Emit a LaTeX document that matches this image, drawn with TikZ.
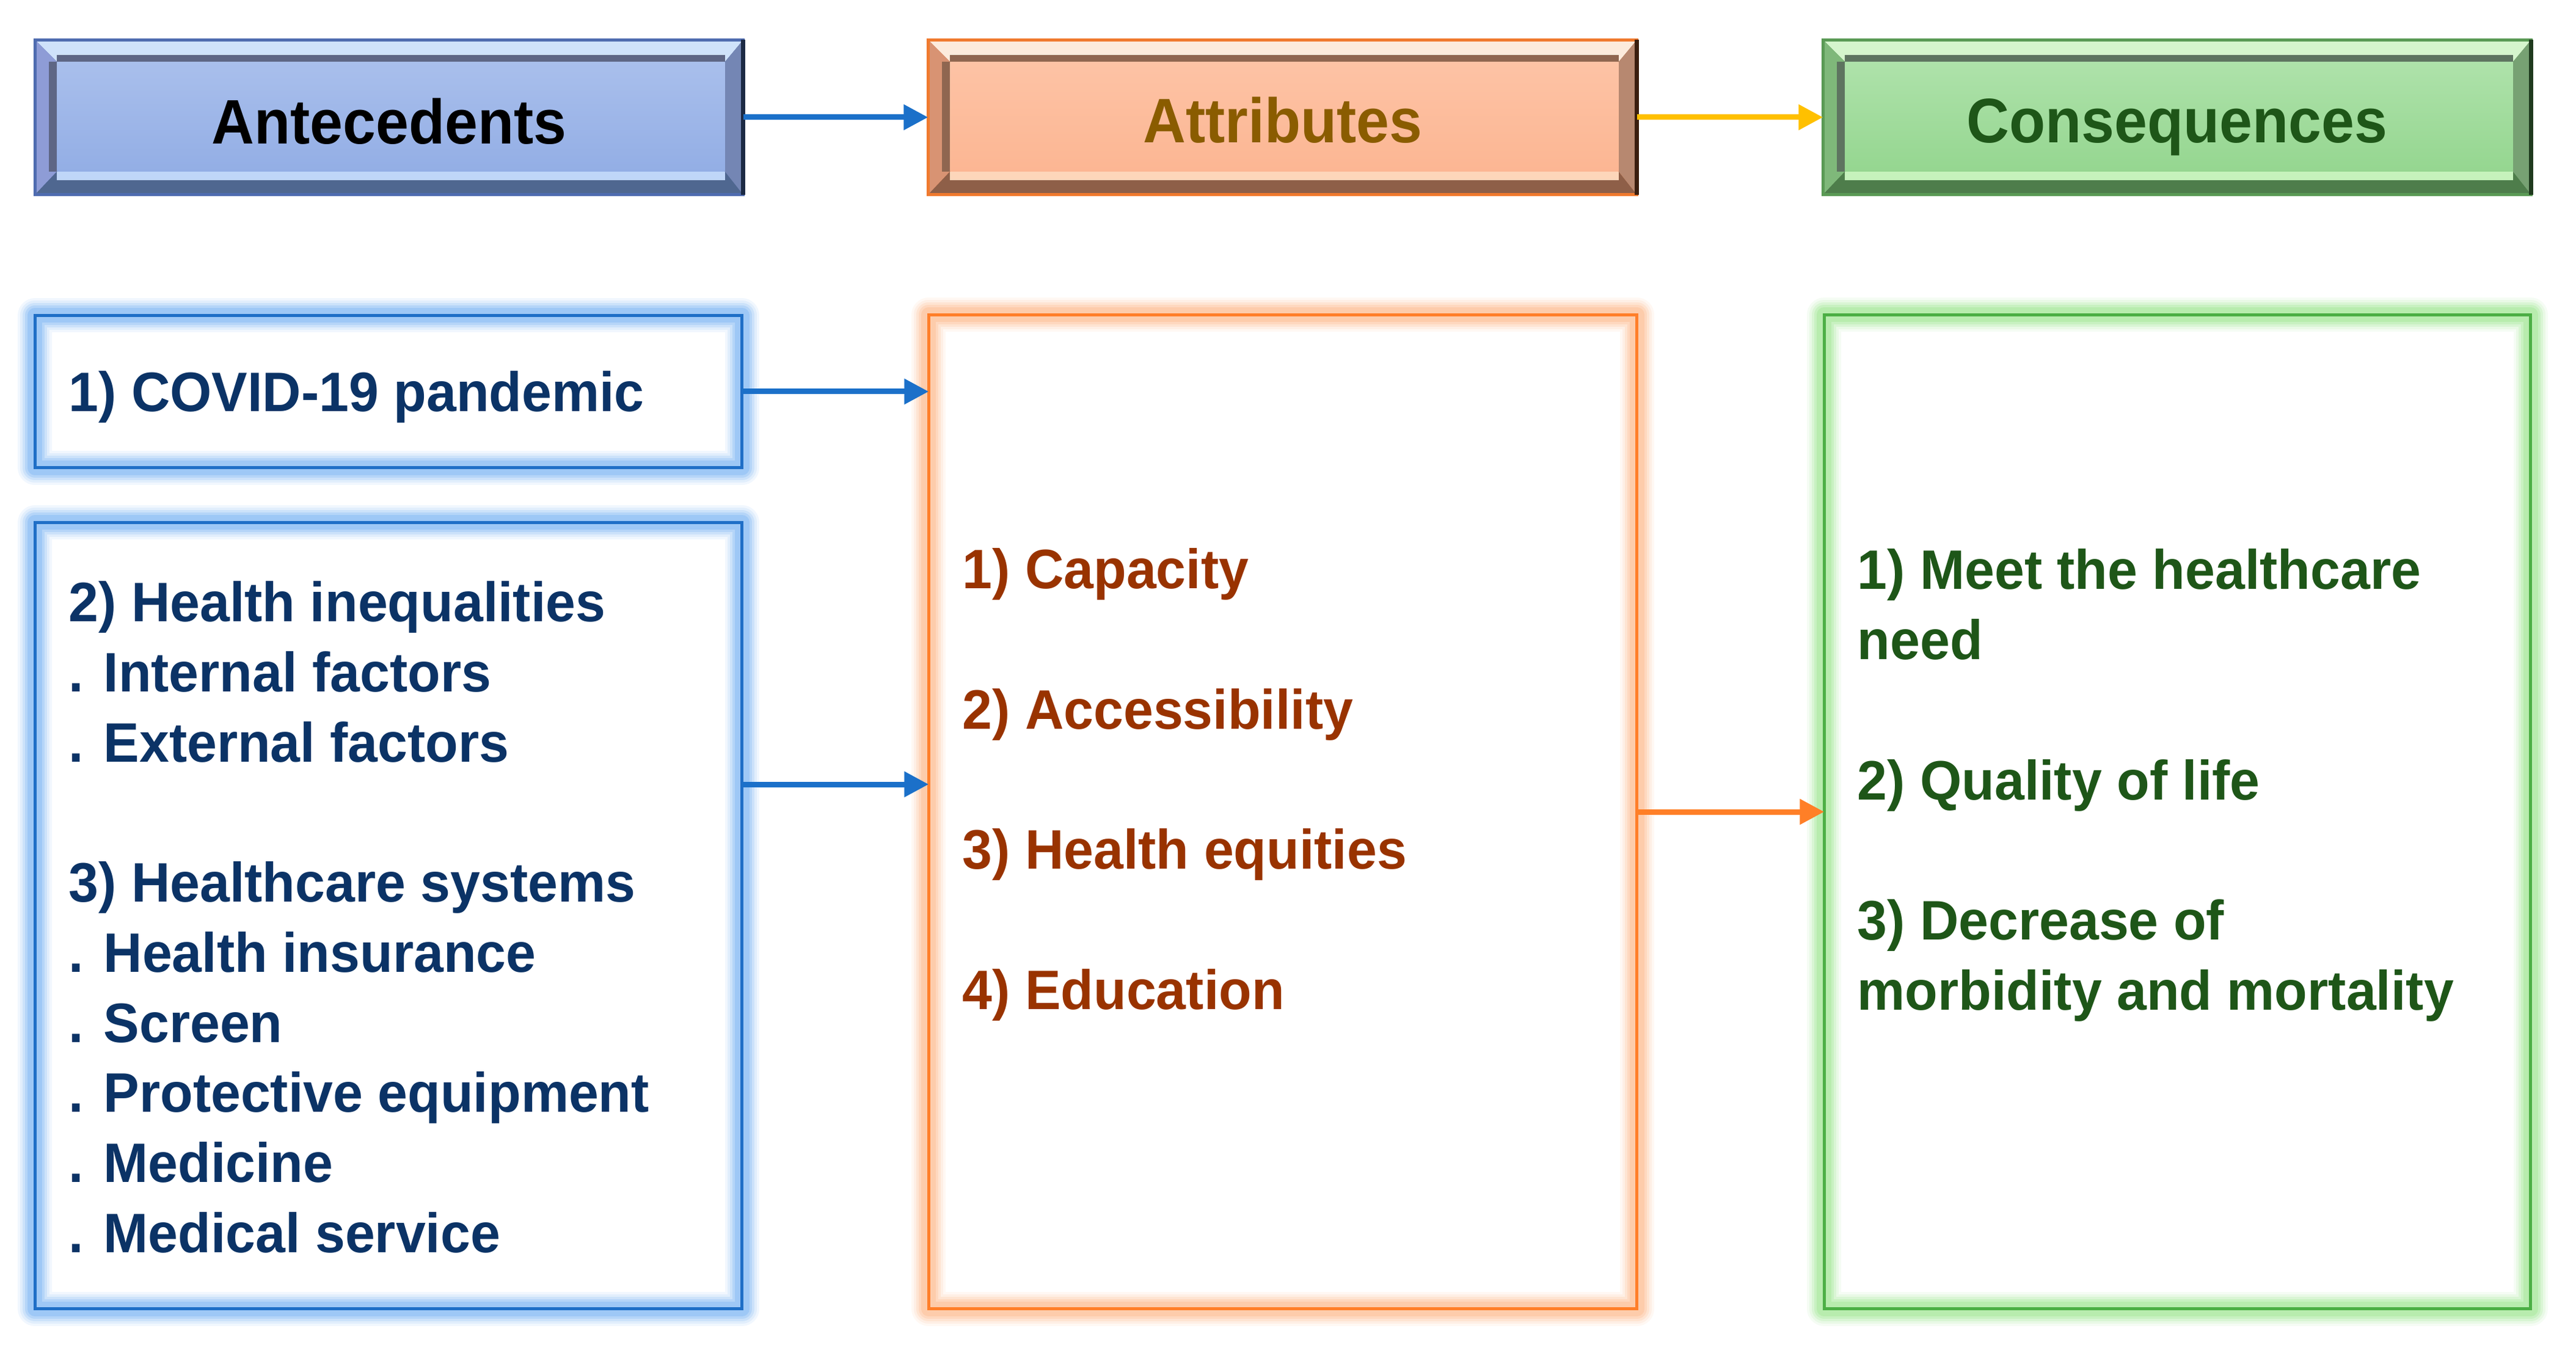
\documentclass[tikz,border=0pt]{standalone}
\usepackage{fontspec}
\setmainfont{Liberation Sans}
\newfontfamily\bodyfont{Liberation Sans}[FakeStretch=0.965]
\newfontfamily\headfont{Liberation Sans}[FakeStretch=0.94]
\usetikzlibrary{arrows.meta,calc}

% header bevel colours: bd border, hi top light, sh inner shadow, lf left, bt bottom, bh bottom highlight, rt right, ed right edge, ft/fb face
\definecolor{Abd}{HTML}{4F6CB0}\definecolor{Ahi}{HTML}{CFE2FA}\definecolor{Ash}{HTML}{5E6685}
\definecolor{Alf}{HTML}{8E9CD6}\definecolor{Abt}{HTML}{4F6790}\definecolor{Abh}{HTML}{BFD6F8}
\definecolor{Art}{HTML}{7486B4}\definecolor{Aed}{HTML}{1C2A44}\definecolor{Aft}{HTML}{A9BFEC}\definecolor{Afb}{HTML}{93AEE5}

\definecolor{Bbd}{HTML}{F07A2E}\definecolor{Bhi}{HTML}{FCEBDC}\definecolor{Bsh}{HTML}{8F6650}
\definecolor{Blf}{HTML}{D89373}\definecolor{Bbt}{HTML}{8E5F48}\definecolor{Bbh}{HTML}{FDD6BA}
\definecolor{Brt}{HTML}{B78870}\definecolor{Bed}{HTML}{3A1E0F}\definecolor{Bft}{HTML}{FDC3A5}\definecolor{Bfb}{HTML}{FCB693}

\definecolor{Cbd}{HTML}{5A9A55}\definecolor{Chi}{HTML}{D5F5CD}\definecolor{Csh}{HTML}{5E7460}
\definecolor{Clf}{HTML}{7FB87A}\definecolor{Cbt}{HTML}{4E7D4B}\definecolor{Cbh}{HTML}{C6F2BC}
\definecolor{Crt}{HTML}{77A173}\definecolor{Ced}{HTML}{1F3A1E}\definecolor{Cft}{HTML}{AEE2AA}\definecolor{Cfb}{HTML}{95D690}

\definecolor{blueLine}{HTML}{1F6FC7}\definecolor{blueGlow}{HTML}{8DBEF4}
\definecolor{orangeLine}{HTML}{FF7F2A}\definecolor{orangeGlow}{HTML}{FDC39C}
\definecolor{greenLine}{HTML}{4CAF45}\definecolor{greenGlow}{HTML}{ABE9A0}

\definecolor{arrBlue}{HTML}{1B70C9}\definecolor{arrYellow}{HTML}{FFC000}\definecolor{arrOrange}{HTML}{FF7F27}
\definecolor{txtNavy}{HTML}{0B3366}\definecolor{txtBrown}{HTML}{993300}\definecolor{txtGreen}{HTML}{1E5618}
\definecolor{txtGold}{HTML}{8A5C00}

\newcommand\linesbox[1]{\vtop{\baselineskip=1.147cm\lineskiplimit=-100cm\lineskip=0pt\relax #1}}

\newcommand\bevelpanel[2]{%
 \coordinate (#1-iNW) at ($(#1.north west)+(0.36,-0.36)$);
 \coordinate (#1-iNE) at ($(#1.north east)+(-0.30,-0.36)$);
 \coordinate (#1-iSW) at ($(#1.south west)+(0.36,0.38)$);
 \coordinate (#1-iSE) at ($(#1.south east)+(-0.30,0.38)$);
 \fill[#2bd] (#1.south west) rectangle (#1.north east);
 \fill[#2hi] (#1.north west) -- (#1.north east) -- (#1-iNE) -- (#1-iNW) -- cycle;
 \fill[#2lf] (#1.north west) -- (#1-iNW) -- (#1-iSW) -- (#1.south west) -- cycle;
 \fill[#2bt] (#1.south west) -- (#1-iSW) -- (#1-iSE) -- (#1.south east) -- cycle;
 \fill[#2rt] (#1.north east) -- (#1-iNE) -- (#1-iSE) -- (#1.south east) -- cycle;
 \draw[#2sh, line width=0.11cm] ($(#1-iNW)+(0,0.055)$) -- ($(#1-iNE)+(0,0.055)$);
 \draw[#2sh, line width=0.13cm] ($(#1-iNW)+(-0.065,0)$) -- ($(#1-iSW)+(-0.065,0)$);
 \draw[#2bh, line width=0.14cm] ($(#1-iSW)+(0,-0.07)$) -- ($(#1-iSE)+(0,-0.07)$);
 \shade[top color=#2ft, bottom color=#2fb] (#1-iNW) rectangle (#1-iSE);
 \draw[#2bd, line width=0.05cm] (#1.south west) rectangle (#1.north east);
 \draw[#2ed, line width=0.07cm] (#1.north east) -- (#1.south east);
}

\newcommand\glowbox[3]{%
 \foreach \w/\p in {0.56/12,0.48/26,0.40/45,0.32/65,0.24/85}{%
   \draw[line width=\w cm, #2!\p!white, line join=round] (#1.south west) rectangle (#1.north east);
 }
 \draw[line width=0.05cm, #3] (#1.south west) rectangle (#1.north east);
}

\tikzset{
 frame/.style={draw=none, inner sep=0pt, rectangle},
 bodytxt/.style={inner sep=0pt, anchor=base west, font=\bodyfont\fontsize{25.9pt}{31pt}\selectfont\bfseries},
 headtxt/.style={inner sep=0pt, anchor=base, font=\headfont\fontsize{29.3pt}{35pt}\selectfont\bfseries},
 arr/.style={line width=0.09cm, -{Triangle[length=0.4cm,width=0.4cm]}},
}

\begin{document}
\begin{tikzpicture}
\useasboundingbox (0,0) rectangle (42.17,-22.15);

% frames
\node[frame, minimum width=11.58cm, minimum height=2.52cm] (hA) at (6.37,-1.92) {};
\node[frame, minimum width=11.59cm, minimum height=2.52cm] (hB) at (20.995,-1.92) {};
\node[frame, minimum width=11.58cm, minimum height=2.52cm] (hC) at (35.64,-1.92) {};
\node[frame, minimum width=11.56cm, minimum height=2.48cm] (covid) at (6.36,-6.41) {};
\node[frame, minimum width=11.56cm, minimum height=12.86cm] (ineq) at (6.36,-14.99) {};
\node[frame, minimum width=11.58cm, minimum height=16.26cm] (attr) at (21.0,-13.29) {};
\node[frame, minimum width=11.55cm, minimum height=16.26cm] (cons) at (35.645,-13.29) {};

% header panels
\bevelpanel{hA}{A}
\bevelpanel{hB}{B}
\bevelpanel{hC}{C}

% glowing boxes
\glowbox{covid}{blueGlow}{blueLine}
\glowbox{ineq}{blueGlow}{blueLine}
\glowbox{attr}{orangeGlow}{orangeLine}
\glowbox{cons}{greenGlow}{greenLine}

% header texts
\node[headtxt, text=black] (tA) at (6.37,-2.36) {Antecedents};
\node[headtxt, text=txtGold] (tB) at (21.0,-2.34) {Attributes};
\node[headtxt, text=txtGreen] (tC) at (35.64,-2.34) {Consequences};

% body texts
\node[bodytxt, text=txtNavy] (tcovid) at (1.12,-6.74) {1) COVID-19 pandemic};
\node[bodytxt, text=txtNavy] (tineq) at (1.12,-10.18) {\linesbox{%
 \hbox{2) Health inequalities}\hbox{. Internal factors}\hbox{. External factors}\hbox{}%
 \hbox{3) Healthcare systems}\hbox{. Health insurance}\hbox{. Screen}%
 \hbox{. Protective equipment}\hbox{. Medicine}\hbox{. Medical service}}};
\node[bodytxt, text=txtBrown] (tattr) at (15.75,-9.64) {\linesbox{%
 \hbox{1) Capacity}\hbox{}\hbox{2) Accessibility}\hbox{}%
 \hbox{3) Health equities}\hbox{}\hbox{4) Education}}};
\node[bodytxt, text=txtGreen] (tcons) at (30.40,-9.65) {\linesbox{%
 \hbox{1) Meet the healthcare}\hbox{need}\hbox{}\hbox{2) Quality of life}\hbox{}%
 \hbox{3) Decrease of}\hbox{morbidity and mortality}}};

% connectors
\coordinate (rowtwo) at (0,-12.84);
\draw[arr, arrBlue] (hA.east) -- (hB.west);
\draw[arr, arrYellow] (hB.east) -- (hC.west);
\draw[arr, arrBlue] (covid.east) -- (covid.east -| attr.west);
\draw[arr, arrBlue] (ineq.east |- rowtwo) -- (attr.west |- rowtwo);
\draw[arr, arrOrange] (attr.east) -- (cons.west);
\end{tikzpicture}
\end{document}
